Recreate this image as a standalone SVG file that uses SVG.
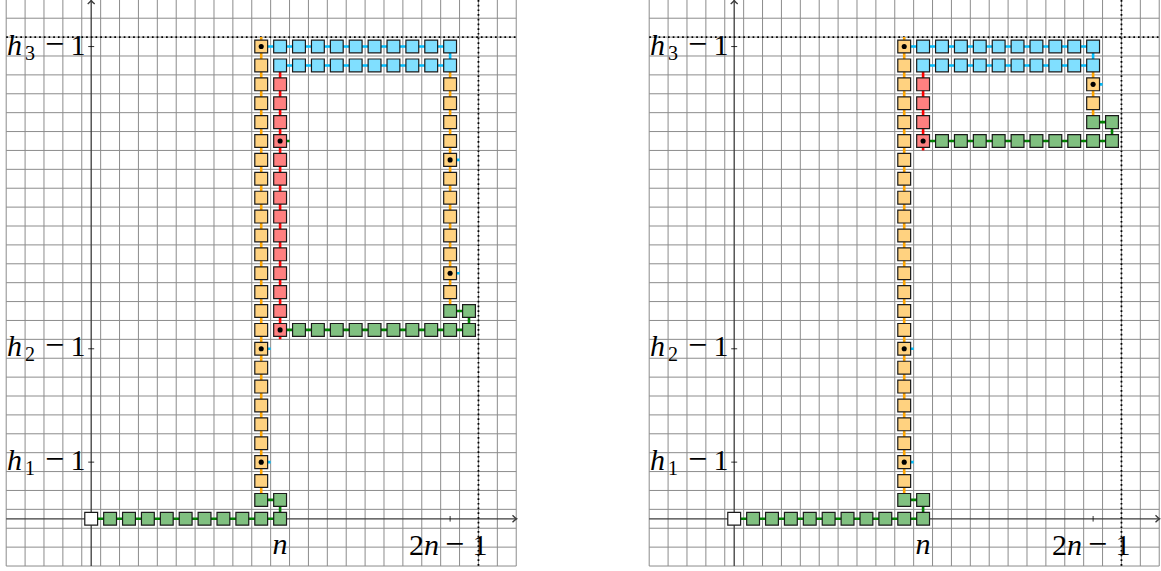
<svg xmlns="http://www.w3.org/2000/svg" xmlns:xlink="http://www.w3.org/1999/xlink" width="1161" height="571" viewBox="0 0 1161 571">
<style>
.w{fill:#ffffff}.g{fill:#80C080}.o{fill:#FFD280}.c{fill:#80DFFF}.r{fill:#FF8080}
.d{fill:#000}
.cn{fill:none;stroke-width:2.6;vector-effect:non-scaling-stroke}
.cg{stroke:#008000}.co{stroke:#FFA500}.cc{stroke:#00BFFF}.cr{stroke:#FF0000}
.ax{fill:none;stroke:#3c3c3c;stroke-width:1.3}
.tk{fill:none;stroke:#000;stroke-width:0.8}
.dt{fill:none;stroke:#000;stroke-width:1.8;stroke-dasharray:1.7 3.0}
.lbl{font-family:"Liberation Serif",serif;font-size:30px;fill:#000}
.it{font-style:italic}
.sub{font-size:20px}
.mn{font-size:34px}
</style>
<defs>
<rect id="t" x="-0.34" y="-0.34" width="0.68" height="0.68" stroke="#1a1a1a" stroke-width="1.2" vector-effect="non-scaling-stroke"/>
<path id="gridp" fill="none" stroke="#8c8c8c" stroke-width="1" vector-effect="non-scaling-stroke" d="M-4.5 -2.5V27.6M-3.5 -2.5V27.6M-2.5 -2.5V27.6M-1.5 -2.5V27.6M-0.5 -2.5V27.6M0.5 -2.5V27.6M1.5 -2.5V27.6M2.5 -2.5V27.6M3.5 -2.5V27.6M4.5 -2.5V27.6M5.5 -2.5V27.6M6.5 -2.5V27.6M7.5 -2.5V27.6M8.5 -2.5V27.6M9.5 -2.5V27.6M10.5 -2.5V27.6M11.5 -2.5V27.6M12.5 -2.5V27.6M13.5 -2.5V27.6M14.5 -2.5V27.6M15.5 -2.5V27.6M16.5 -2.5V27.6M17.5 -2.5V27.6M18.5 -2.5V27.6M19.5 -2.5V27.6M20.5 -2.5V27.6M21.5 -2.5V27.6M22.5 -2.5V27.6M-4.5 -2.5H22.5M-4.5 -1.5H22.5M-4.5 -0.5H22.5M-4.5 0.5H22.5M-4.5 1.5H22.5M-4.5 2.5H22.5M-4.5 3.5H22.5M-4.5 4.5H22.5M-4.5 5.5H22.5M-4.5 6.5H22.5M-4.5 7.5H22.5M-4.5 8.5H22.5M-4.5 9.5H22.5M-4.5 10.5H22.5M-4.5 11.5H22.5M-4.5 12.5H22.5M-4.5 13.5H22.5M-4.5 14.5H22.5M-4.5 15.5H22.5M-4.5 16.5H22.5M-4.5 17.5H22.5M-4.5 18.5H22.5M-4.5 19.5H22.5M-4.5 20.5H22.5M-4.5 21.5H22.5M-4.5 22.5H22.5M-4.5 23.5H22.5M-4.5 24.5H22.5M-4.5 25.5H22.5M-4.5 26.5H22.5M-4.5 27.5H22.5"/>
</defs>

<!-- ================= LEFT PANEL ================= -->
<g id="left-grid" transform="matrix(18.89 0 0 -18.89 91.2 518.8)"><use href="#gridp"/></g>
<g id="left-axes">
<path class="ax" d="M6.2 518.8H516.2M91.2 566V0.6"/>
<path class="ax" d="M512.5 515.3Q515 518 516.6 518.8Q515 519.6 512.5 522.3M87.7 4.1Q90.4 1.6 91.2 0.3Q92 1.6 94.7 4.1"/>
<path class="tk" d="M88.2 462.13H94.2M88.2 348.79H94.2M88.2 46.55H94.2M450.11 516V521.6M280.1 516V521.6"/>
<path class="dt" d="M6.2 37.1H516.2M478.45 0V566"/>
</g>
<g id="left-labels" class="lbl">
<text y="54.5"><tspan class="it" x="7">h</tspan><tspan class="sub" x="25" dy="5">3</tspan><tspan class="mn" x="45" dy="-5">−</tspan><tspan x="70.5">1</tspan></text>
<text y="356.3"><tspan class="it" x="7">h</tspan><tspan class="sub" x="25" dy="5">2</tspan><tspan class="mn" x="45" dy="-5">−</tspan><tspan x="70.5">1</tspan></text>
<text y="469.6"><tspan class="it" x="7">h</tspan><tspan class="sub" x="25" dy="5">1</tspan><tspan class="mn" x="45" dy="-5">−</tspan><tspan x="70.5">1</tspan></text>
<text y="554" class="it" x="272.5">n</text>
<text y="555"><tspan x="409">2</tspan><tspan class="it" x="424">n</tspan><tspan class="mn" x="445">−</tspan><tspan x="472.5">1</tspan></text>
</g>
<g id="left-board" transform="matrix(18.89 0 0 -18.89 91.2 518.8)">
<g id="left-connectors">
<path class="cn cg" d="M0 0H10V1H9M10 10H20V11H19M10 20H10.5"/>
<path class="cn co" d="M9 1V25.5M19 11V24"/>
<path class="cn cc" d="M9 25H19V24H10M9 3H9.5M9 9H9.5M19 19H19.5M19 13H19.5"/>
<path class="cn cr" d="M10 24V9.5"/>
</g>
<g id="L-0-0" class="w"><use href="#t" x="0" y="0"/></g>
<g id="L-1-0" class="g"><use href="#t" x="1" y="0"/></g>
<g id="L-2-0" class="g"><use href="#t" x="2" y="0"/></g>
<g id="L-3-0" class="g"><use href="#t" x="3" y="0"/></g>
<g id="L-4-0" class="g"><use href="#t" x="4" y="0"/></g>
<g id="L-5-0" class="g"><use href="#t" x="5" y="0"/></g>
<g id="L-6-0" class="g"><use href="#t" x="6" y="0"/></g>
<g id="L-7-0" class="g"><use href="#t" x="7" y="0"/></g>
<g id="L-8-0" class="g"><use href="#t" x="8" y="0"/></g>
<g id="L-9-0" class="g"><use href="#t" x="9" y="0"/></g>
<g id="L-10-0" class="g"><use href="#t" x="10" y="0"/></g>
<g id="L-9-1" class="g"><use href="#t" x="9" y="1"/></g>
<g id="L-10-1" class="g"><use href="#t" x="10" y="1"/></g>
<g id="L-9-2" class="o"><use href="#t" x="9" y="2"/></g>
<g id="L-9-3" class="o"><use href="#t" x="9" y="3"/><circle class="d" cx="9" cy="3" r="0.135"/></g>
<g id="L-9-4" class="o"><use href="#t" x="9" y="4"/></g>
<g id="L-9-5" class="o"><use href="#t" x="9" y="5"/></g>
<g id="L-9-6" class="o"><use href="#t" x="9" y="6"/></g>
<g id="L-9-7" class="o"><use href="#t" x="9" y="7"/></g>
<g id="L-9-8" class="o"><use href="#t" x="9" y="8"/></g>
<g id="L-9-9" class="o"><use href="#t" x="9" y="9"/><circle class="d" cx="9" cy="9" r="0.135"/></g>
<g id="L-9-10" class="o"><use href="#t" x="9" y="10"/></g>
<g id="L-9-11" class="o"><use href="#t" x="9" y="11"/></g>
<g id="L-9-12" class="o"><use href="#t" x="9" y="12"/></g>
<g id="L-9-13" class="o"><use href="#t" x="9" y="13"/></g>
<g id="L-9-14" class="o"><use href="#t" x="9" y="14"/></g>
<g id="L-9-15" class="o"><use href="#t" x="9" y="15"/></g>
<g id="L-9-16" class="o"><use href="#t" x="9" y="16"/></g>
<g id="L-9-17" class="o"><use href="#t" x="9" y="17"/></g>
<g id="L-9-18" class="o"><use href="#t" x="9" y="18"/></g>
<g id="L-9-19" class="o"><use href="#t" x="9" y="19"/></g>
<g id="L-9-20" class="o"><use href="#t" x="9" y="20"/></g>
<g id="L-9-21" class="o"><use href="#t" x="9" y="21"/></g>
<g id="L-9-22" class="o"><use href="#t" x="9" y="22"/></g>
<g id="L-9-23" class="o"><use href="#t" x="9" y="23"/></g>
<g id="L-9-24" class="o"><use href="#t" x="9" y="24"/></g>
<g id="L-9-25" class="o"><use href="#t" x="9" y="25"/><circle class="d" cx="9" cy="25" r="0.135"/></g>
<g id="L-10-25" class="c"><use href="#t" x="10" y="25"/></g>
<g id="L-11-25" class="c"><use href="#t" x="11" y="25"/></g>
<g id="L-12-25" class="c"><use href="#t" x="12" y="25"/></g>
<g id="L-13-25" class="c"><use href="#t" x="13" y="25"/></g>
<g id="L-14-25" class="c"><use href="#t" x="14" y="25"/></g>
<g id="L-15-25" class="c"><use href="#t" x="15" y="25"/></g>
<g id="L-16-25" class="c"><use href="#t" x="16" y="25"/></g>
<g id="L-17-25" class="c"><use href="#t" x="17" y="25"/></g>
<g id="L-18-25" class="c"><use href="#t" x="18" y="25"/></g>
<g id="L-19-25" class="c"><use href="#t" x="19" y="25"/></g>
<g id="L-10-24" class="c"><use href="#t" x="10" y="24"/></g>
<g id="L-11-24" class="c"><use href="#t" x="11" y="24"/></g>
<g id="L-12-24" class="c"><use href="#t" x="12" y="24"/></g>
<g id="L-13-24" class="c"><use href="#t" x="13" y="24"/></g>
<g id="L-14-24" class="c"><use href="#t" x="14" y="24"/></g>
<g id="L-15-24" class="c"><use href="#t" x="15" y="24"/></g>
<g id="L-16-24" class="c"><use href="#t" x="16" y="24"/></g>
<g id="L-17-24" class="c"><use href="#t" x="17" y="24"/></g>
<g id="L-18-24" class="c"><use href="#t" x="18" y="24"/></g>
<g id="L-19-24" class="c"><use href="#t" x="19" y="24"/></g>
<g id="L-10-23" class="r"><use href="#t" x="10" y="23"/></g>
<g id="L-10-22" class="r"><use href="#t" x="10" y="22"/></g>
<g id="L-10-21" class="r"><use href="#t" x="10" y="21"/></g>
<g id="L-10-20" class="r"><use href="#t" x="10" y="20"/><circle class="d" cx="10" cy="20" r="0.135"/></g>
<g id="L-10-19" class="r"><use href="#t" x="10" y="19"/></g>
<g id="L-10-18" class="r"><use href="#t" x="10" y="18"/></g>
<g id="L-10-17" class="r"><use href="#t" x="10" y="17"/></g>
<g id="L-10-16" class="r"><use href="#t" x="10" y="16"/></g>
<g id="L-10-15" class="r"><use href="#t" x="10" y="15"/></g>
<g id="L-10-14" class="r"><use href="#t" x="10" y="14"/></g>
<g id="L-10-13" class="r"><use href="#t" x="10" y="13"/></g>
<g id="L-10-12" class="r"><use href="#t" x="10" y="12"/></g>
<g id="L-10-11" class="r"><use href="#t" x="10" y="11"/></g>
<g id="L-10-10" class="r"><use href="#t" x="10" y="10"/><circle class="d" cx="10" cy="10" r="0.135"/></g>
<g id="L-11-10" class="g"><use href="#t" x="11" y="10"/></g>
<g id="L-12-10" class="g"><use href="#t" x="12" y="10"/></g>
<g id="L-13-10" class="g"><use href="#t" x="13" y="10"/></g>
<g id="L-14-10" class="g"><use href="#t" x="14" y="10"/></g>
<g id="L-15-10" class="g"><use href="#t" x="15" y="10"/></g>
<g id="L-16-10" class="g"><use href="#t" x="16" y="10"/></g>
<g id="L-17-10" class="g"><use href="#t" x="17" y="10"/></g>
<g id="L-18-10" class="g"><use href="#t" x="18" y="10"/></g>
<g id="L-19-10" class="g"><use href="#t" x="19" y="10"/></g>
<g id="L-20-10" class="g"><use href="#t" x="20" y="10"/></g>
<g id="L-19-11" class="g"><use href="#t" x="19" y="11"/></g>
<g id="L-20-11" class="g"><use href="#t" x="20" y="11"/></g>
<g id="L-19-12" class="o"><use href="#t" x="19" y="12"/></g>
<g id="L-19-13" class="o"><use href="#t" x="19" y="13"/><circle class="d" cx="19" cy="13" r="0.135"/></g>
<g id="L-19-14" class="o"><use href="#t" x="19" y="14"/></g>
<g id="L-19-15" class="o"><use href="#t" x="19" y="15"/></g>
<g id="L-19-16" class="o"><use href="#t" x="19" y="16"/></g>
<g id="L-19-17" class="o"><use href="#t" x="19" y="17"/></g>
<g id="L-19-18" class="o"><use href="#t" x="19" y="18"/></g>
<g id="L-19-19" class="o"><use href="#t" x="19" y="19"/><circle class="d" cx="19" cy="19" r="0.135"/></g>
<g id="L-19-20" class="o"><use href="#t" x="19" y="20"/></g>
<g id="L-19-21" class="o"><use href="#t" x="19" y="21"/></g>
<g id="L-19-22" class="o"><use href="#t" x="19" y="22"/></g>
<g id="L-19-23" class="o"><use href="#t" x="19" y="23"/></g>
</g>

<!-- ================= RIGHT PANEL ================= -->
<g id="right-grid" transform="matrix(18.89 0 0 -18.89 734.2 518.8)"><use href="#gridp"/></g>
<g id="right-axes">
<path class="ax" d="M649.2 518.8H1159.2M734.2 566V0.6"/>
<path class="ax" d="M1155.5 515.3Q1158 518 1159.6 518.8Q1158 519.6 1155.5 522.3M730.7 4.1Q733.4 1.6 734.2 0.3Q735 1.6 737.7 4.1"/>
<path class="tk" d="M731.2 462.13H737.2M731.2 348.79H737.2M731.2 46.55H737.2M1093.11 516V521.6M923.1 516V521.6"/>
<path class="dt" d="M649.2 37.1H1159.2M1121.45 0V566"/>
</g>
<g id="right-labels" class="lbl">
<text y="54.5"><tspan class="it" x="650">h</tspan><tspan class="sub" x="668" dy="5">3</tspan><tspan class="mn" x="688" dy="-5">−</tspan><tspan x="713.5">1</tspan></text>
<text y="356.3"><tspan class="it" x="650">h</tspan><tspan class="sub" x="668" dy="5">2</tspan><tspan class="mn" x="688" dy="-5">−</tspan><tspan x="713.5">1</tspan></text>
<text y="469.6"><tspan class="it" x="650">h</tspan><tspan class="sub" x="668" dy="5">1</tspan><tspan class="mn" x="688" dy="-5">−</tspan><tspan x="713.5">1</tspan></text>
<text y="554" class="it" x="915.5">n</text>
<text y="555"><tspan x="1052">2</tspan><tspan class="it" x="1067">n</tspan><tspan class="mn" x="1088">−</tspan><tspan x="1115.5">1</tspan></text>
</g>
<g id="right-board" transform="matrix(18.89 0 0 -18.89 734.2 518.8)">
<g id="right-connectors">
<path class="cn cg" d="M0 0H10V1H9M10 20H20V21H19"/>
<path class="cn co" d="M9 1V25.5M19 21V24"/>
<path class="cn cc" d="M9 25H19V24H10M9 3H9.5M9 9H9.5M19 23H19.5"/>
<path class="cn cr" d="M10 24V19.5"/>
</g>
<g id="R-0-0" class="w"><use href="#t" x="0" y="0"/></g>
<g id="R-1-0" class="g"><use href="#t" x="1" y="0"/></g>
<g id="R-2-0" class="g"><use href="#t" x="2" y="0"/></g>
<g id="R-3-0" class="g"><use href="#t" x="3" y="0"/></g>
<g id="R-4-0" class="g"><use href="#t" x="4" y="0"/></g>
<g id="R-5-0" class="g"><use href="#t" x="5" y="0"/></g>
<g id="R-6-0" class="g"><use href="#t" x="6" y="0"/></g>
<g id="R-7-0" class="g"><use href="#t" x="7" y="0"/></g>
<g id="R-8-0" class="g"><use href="#t" x="8" y="0"/></g>
<g id="R-9-0" class="g"><use href="#t" x="9" y="0"/></g>
<g id="R-10-0" class="g"><use href="#t" x="10" y="0"/></g>
<g id="R-9-1" class="g"><use href="#t" x="9" y="1"/></g>
<g id="R-10-1" class="g"><use href="#t" x="10" y="1"/></g>
<g id="R-9-2" class="o"><use href="#t" x="9" y="2"/></g>
<g id="R-9-3" class="o"><use href="#t" x="9" y="3"/><circle class="d" cx="9" cy="3" r="0.135"/></g>
<g id="R-9-4" class="o"><use href="#t" x="9" y="4"/></g>
<g id="R-9-5" class="o"><use href="#t" x="9" y="5"/></g>
<g id="R-9-6" class="o"><use href="#t" x="9" y="6"/></g>
<g id="R-9-7" class="o"><use href="#t" x="9" y="7"/></g>
<g id="R-9-8" class="o"><use href="#t" x="9" y="8"/></g>
<g id="R-9-9" class="o"><use href="#t" x="9" y="9"/><circle class="d" cx="9" cy="9" r="0.135"/></g>
<g id="R-9-10" class="o"><use href="#t" x="9" y="10"/></g>
<g id="R-9-11" class="o"><use href="#t" x="9" y="11"/></g>
<g id="R-9-12" class="o"><use href="#t" x="9" y="12"/></g>
<g id="R-9-13" class="o"><use href="#t" x="9" y="13"/></g>
<g id="R-9-14" class="o"><use href="#t" x="9" y="14"/></g>
<g id="R-9-15" class="o"><use href="#t" x="9" y="15"/></g>
<g id="R-9-16" class="o"><use href="#t" x="9" y="16"/></g>
<g id="R-9-17" class="o"><use href="#t" x="9" y="17"/></g>
<g id="R-9-18" class="o"><use href="#t" x="9" y="18"/></g>
<g id="R-9-19" class="o"><use href="#t" x="9" y="19"/></g>
<g id="R-9-20" class="o"><use href="#t" x="9" y="20"/></g>
<g id="R-9-21" class="o"><use href="#t" x="9" y="21"/></g>
<g id="R-9-22" class="o"><use href="#t" x="9" y="22"/></g>
<g id="R-9-23" class="o"><use href="#t" x="9" y="23"/></g>
<g id="R-9-24" class="o"><use href="#t" x="9" y="24"/></g>
<g id="R-9-25" class="o"><use href="#t" x="9" y="25"/><circle class="d" cx="9" cy="25" r="0.135"/></g>
<g id="R-10-25" class="c"><use href="#t" x="10" y="25"/></g>
<g id="R-11-25" class="c"><use href="#t" x="11" y="25"/></g>
<g id="R-12-25" class="c"><use href="#t" x="12" y="25"/></g>
<g id="R-13-25" class="c"><use href="#t" x="13" y="25"/></g>
<g id="R-14-25" class="c"><use href="#t" x="14" y="25"/></g>
<g id="R-15-25" class="c"><use href="#t" x="15" y="25"/></g>
<g id="R-16-25" class="c"><use href="#t" x="16" y="25"/></g>
<g id="R-17-25" class="c"><use href="#t" x="17" y="25"/></g>
<g id="R-18-25" class="c"><use href="#t" x="18" y="25"/></g>
<g id="R-19-25" class="c"><use href="#t" x="19" y="25"/></g>
<g id="R-10-24" class="c"><use href="#t" x="10" y="24"/></g>
<g id="R-11-24" class="c"><use href="#t" x="11" y="24"/></g>
<g id="R-12-24" class="c"><use href="#t" x="12" y="24"/></g>
<g id="R-13-24" class="c"><use href="#t" x="13" y="24"/></g>
<g id="R-14-24" class="c"><use href="#t" x="14" y="24"/></g>
<g id="R-15-24" class="c"><use href="#t" x="15" y="24"/></g>
<g id="R-16-24" class="c"><use href="#t" x="16" y="24"/></g>
<g id="R-17-24" class="c"><use href="#t" x="17" y="24"/></g>
<g id="R-18-24" class="c"><use href="#t" x="18" y="24"/></g>
<g id="R-19-24" class="c"><use href="#t" x="19" y="24"/></g>
<g id="R-10-23" class="r"><use href="#t" x="10" y="23"/></g>
<g id="R-10-22" class="r"><use href="#t" x="10" y="22"/></g>
<g id="R-10-21" class="r"><use href="#t" x="10" y="21"/></g>
<g id="R-10-20" class="r"><use href="#t" x="10" y="20"/><circle class="d" cx="10" cy="20" r="0.135"/></g>
<g id="R-11-20" class="g"><use href="#t" x="11" y="20"/></g>
<g id="R-12-20" class="g"><use href="#t" x="12" y="20"/></g>
<g id="R-13-20" class="g"><use href="#t" x="13" y="20"/></g>
<g id="R-14-20" class="g"><use href="#t" x="14" y="20"/></g>
<g id="R-15-20" class="g"><use href="#t" x="15" y="20"/></g>
<g id="R-16-20" class="g"><use href="#t" x="16" y="20"/></g>
<g id="R-17-20" class="g"><use href="#t" x="17" y="20"/></g>
<g id="R-18-20" class="g"><use href="#t" x="18" y="20"/></g>
<g id="R-19-20" class="g"><use href="#t" x="19" y="20"/></g>
<g id="R-20-20" class="g"><use href="#t" x="20" y="20"/></g>
<g id="R-19-21" class="g"><use href="#t" x="19" y="21"/></g>
<g id="R-20-21" class="g"><use href="#t" x="20" y="21"/></g>
<g id="R-19-22" class="o"><use href="#t" x="19" y="22"/></g>
<g id="R-19-23" class="o"><use href="#t" x="19" y="23"/><circle class="d" cx="19" cy="23" r="0.135"/></g>
</g>
</svg>
